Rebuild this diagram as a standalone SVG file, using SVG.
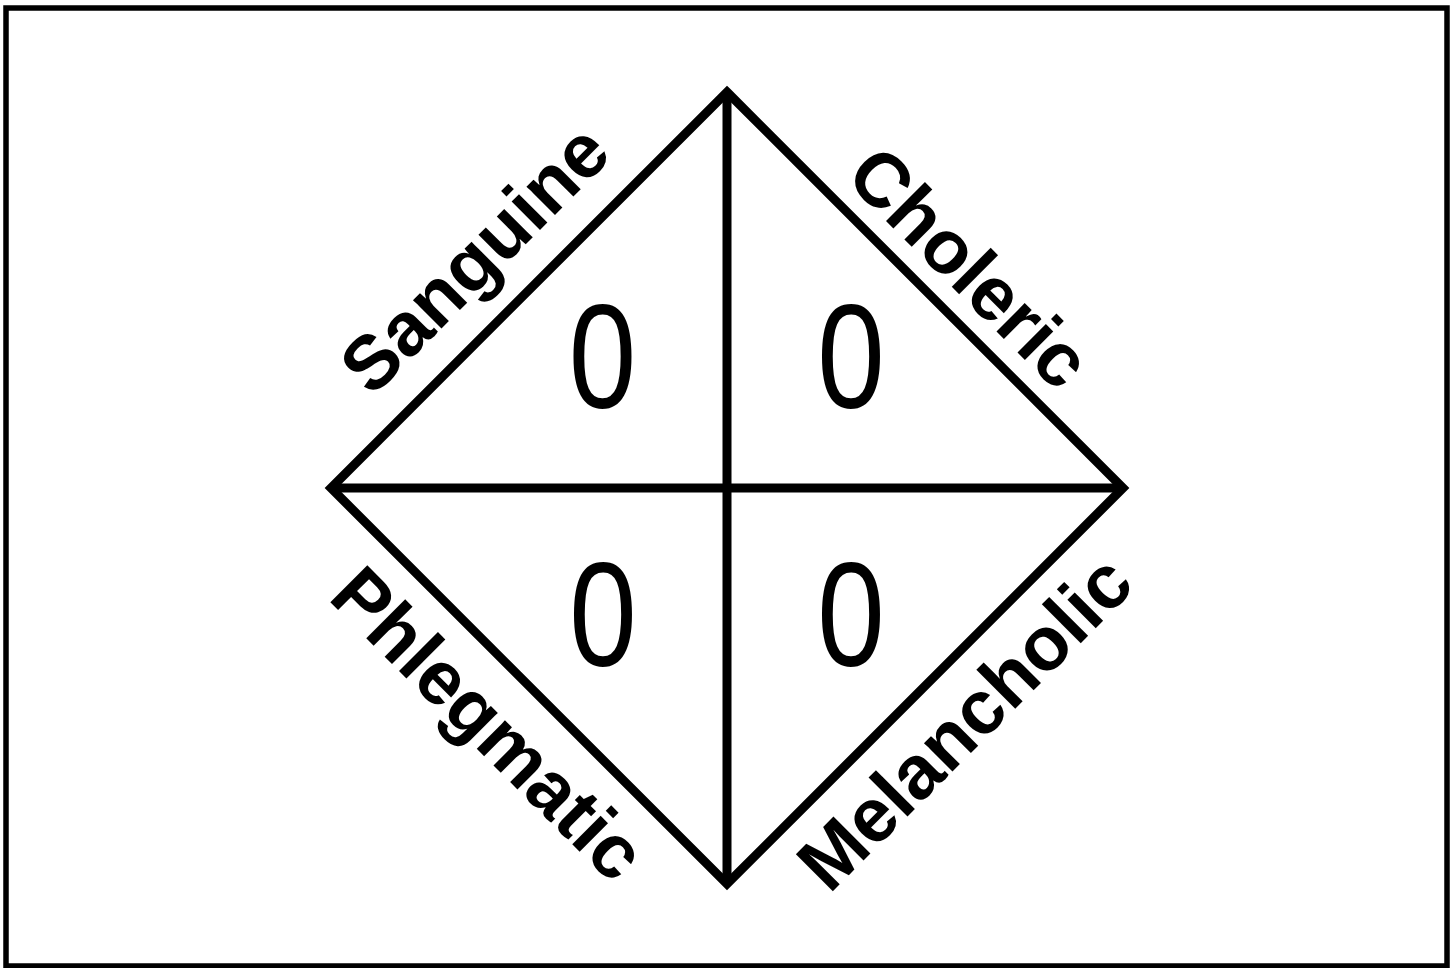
<svg xmlns="http://www.w3.org/2000/svg" width="1453" height="968" viewBox="0 0 1453 968">
  <style>
    .ln { fill: none; stroke: #000; stroke-width: 9; stroke-linejoin: miter; }
    .lbl { font-family: "Liberation Sans", Arial, sans-serif; font-weight: bold; font-size: 76px; fill: #000; text-anchor: middle; }
    .zero { font-family: "Liberation Sans", Arial, sans-serif; font-size: 148px; fill: #000; text-anchor: middle; }
  </style>
  <rect x="0" y="0" width="1453" height="968" fill="#fff"/>
  <rect id="frame" x="6" y="8" width="1441" height="958" fill="none" stroke="#000" stroke-width="5.5"/>
  <g id="connectors">
    <polygon class="ln" points="727,92 1123,488 727,884 331,488"/>
    <line class="ln" x1="727" y1="92" x2="727" y2="884"/>
    <line class="ln" x1="331" y1="488" x2="1123" y2="488"/>
  </g>
  <g id="sanguine">
    <text class="lbl" transform="translate(493,277) rotate(-45)">Sanguine</text>
    <text class="zero" transform="translate(602.5,408) scale(0.82,1)">0</text>
  </g>
  <g id="choleric">
    <text class="lbl" transform="translate(951,286) rotate(45)">Choleric</text>
    <text class="zero" transform="translate(851,408) scale(0.82,1)">0</text>
  </g>
  <g id="phlegmatic">
    <text class="lbl" transform="translate(470,742) rotate(45)">Phlegmatic</text>
    <text class="zero" transform="translate(603,666) scale(0.82,1)">0</text>
  </g>
  <g id="melancholic">
    <text class="lbl" transform="translate(983,741) rotate(-45)">Melancholic</text>
    <text class="zero" transform="translate(851,666) scale(0.82,1)">0</text>
  </g>
</svg>
